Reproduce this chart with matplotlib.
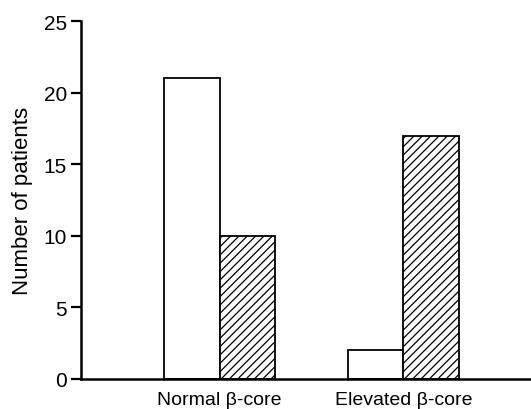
import matplotlib
matplotlib.use("Agg")
import matplotlib.pyplot as plt
import numpy as np

# ---- data ------------------------------------------------------------------
groups = ["Normal β-core", "Elevated β-core"]
open_bars = [21, 2]
hatched_bars = [10, 17]

plt.rcParams["font.family"] = ["Liberation Sans", "DejaVu Sans"]
plt.rcParams["hatch.linewidth"] = 0.9

fig = plt.figure(figsize=(5.31, 4.10), dpi=100)
ax = fig.add_axes([0.1525, 0.0732, 0.8475, 0.8730])

x = np.arange(len(groups))
w = 0.30
ax.bar(x - w / 2, open_bars, w, facecolor="white", edgecolor="black", lw=1.3)
ax.bar(x + w / 2, hatched_bars, w, facecolor="white", edgecolor="black",
       lw=1.3, hatch="////")

ax.set_xlim(-0.753, 1.693)
ax.set_ylim(0, 25)
ax.set_yticks([0, 5, 10, 15, 20, 25])
ax.set_xticks(x)
ax.set_xticklabels(groups, fontsize=14)
ax.tick_params(axis="x", length=0, pad=9)
ax.tick_params(axis="y", length=7, width=1.6, labelsize=15, pad=3)
ax.set_ylabel("Number of patients", fontsize=16, labelpad=8)

for s in ("top", "right"):
    ax.spines[s].set_visible(False)
ax.spines["left"].set_linewidth(1.8)
ax.spines["bottom"].set_linewidth(1.8)

fig.savefig("out.png", dpi=100, facecolor="white")
